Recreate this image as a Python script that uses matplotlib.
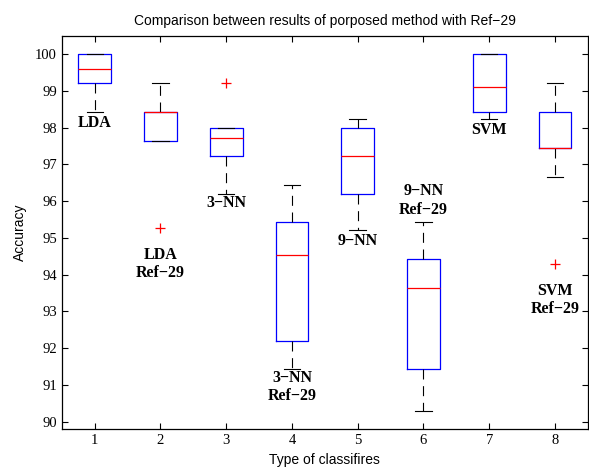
import matplotlib
matplotlib.use("Agg")
import matplotlib.pyplot as plt

positions = [1, 2, 3, 4, 5, 6, 7, 8]
whis_low = [98.44, 97.64, 96.21, 91.43, 95.22, 90.28, 98.23, 96.66]
q1 = [99.22, 97.64, 97.22, 92.21, 96.21, 91.43, 98.44, 97.44]
median = [99.61, 98.44, 97.71, 94.54, 97.22, 93.64, 99.11, 97.44]
q3 = [100.0, 98.44, 98.00, 95.43, 98.00, 94.42, 100.0, 98.44]
whis_high = [100.0, 99.22, 98.00, 96.43, 98.23, 95.43, 100.0, 99.22]
outliers = [[], [95.28], [99.22], [], [], [], [], [94.29]]

label_text = ["LDA", "LDA\nRef\u221229", "3\u2212NN", "3\u2212NN\nRef\u221229",
              "9\u2212NN", "9\u2212NN\nRef\u221229", "SVM", "SVM\nRef\u221229"]
label_y = [98.12, 94.3, 95.94, 90.95, 94.93, 96.02, 97.93, 93.32]

fig = plt.figure(figsize=(5.89, 4.70), dpi=100)
ax = fig.add_axes([0.105, 0.087, 0.893, 0.836])

stats = []
for i in range(len(positions)):
    stats.append(dict(med=median[i], q1=q1[i], q3=q3[i],
                      whislo=whis_low[i], whishi=whis_high[i],
                      fliers=outliers[i]))

ax.bxp(stats, positions=positions, widths=0.5, showfliers=True,
       boxprops=dict(color="#0000ff", linewidth=0.9),
       medianprops=dict(color="#ff0000", linewidth=0.9),
       whiskerprops=dict(color="black", linewidth=0.8, linestyle=(0, (9, 6))),
       capprops=dict(color="black", linewidth=0.8),
       flierprops=dict(marker="+", markeredgecolor="#ff0000", markersize=7,
                       markeredgewidth=0.9, linestyle="none"),
       capwidths=0.25)

for x, t, y in zip(positions, label_text, label_y):
    ax.text(x, y, t, ha="center", va="center", fontsize=11.5, fontweight="bold",
            family="Liberation Serif", linespacing=1.2)

ax.set_xlim(0.5, 8.5)
ax.set_ylim(89.8, 100.49)
ax.set_xticks(positions)
ax.set_xticklabels([str(p) for p in positions])
ax.set_yticks(list(range(90, 101)))
ax.set_yticklabels([str(v) for v in range(90, 101)])
for lab in ax.get_xticklabels() + ax.get_yticklabels():
    lab.set_family("Liberation Serif")
    lab.set_fontsize(10.5)
ax.tick_params(direction="in", top=True, right=True, length=4, width=0.8)
for s in ax.spines.values():
    s.set_linewidth(0.9)

ax.set_title("Comparison between results of porposed method with Ref\u221229",
             fontsize=10, family="Liberation Sans", pad=8)
ax.set_xlabel("Type of classifires", fontsize=10, family="Liberation Sans", labelpad=4)
ax.set_ylabel("Accuracy", fontsize=10, family="Liberation Sans", labelpad=6)

fig.savefig("out.png", dpi=100)
